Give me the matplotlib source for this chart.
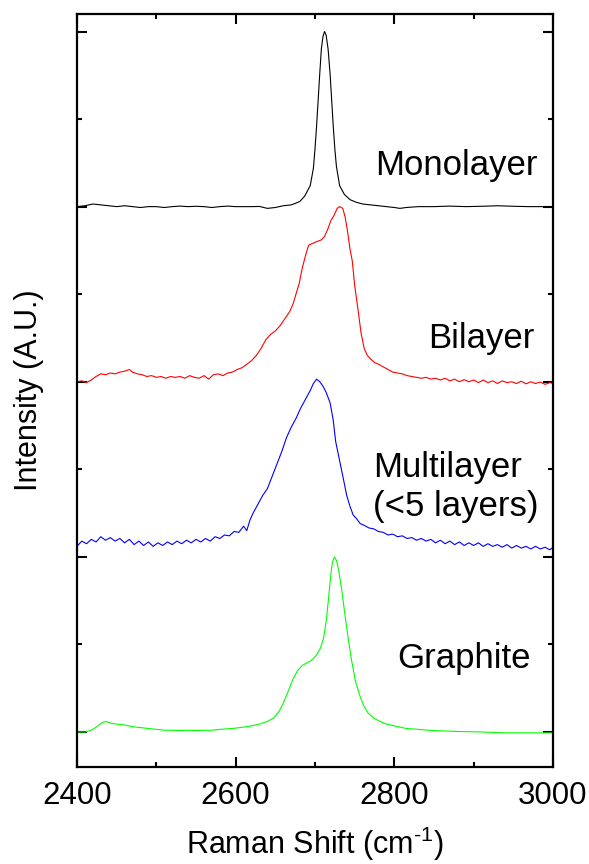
import matplotlib
matplotlib.use("Agg")
import matplotlib.pyplot as plt
from matplotlib.ticker import MultipleLocator, FixedLocator, NullFormatter

plt.rcParams['font.family'] = ['Liberation Sans', 'DejaVu Sans']
plt.rcParams['mathtext.fontset'] = 'custom'
plt.rcParams['mathtext.rm'] = 'Liberation Sans'

# ---------------- data (curves already offset) -------------
mono_x = [2400, 2410, 2420, 2430, 2440, 2450, 2460, 2470, 2480, 2490, 2500, 2510,
          2520, 2530, 2540, 2550, 2560, 2570, 2580, 2590, 2600, 2610, 2620, 2630,
          2640, 2650, 2660, 2670, 2676, 2681, 2687, 2694, 2698, 2700, 2702, 2704,
          2706, 2708, 2710, 2712, 2714, 2716.5, 2719, 2721, 2723, 2725, 2727, 2731,
          2737, 2744, 2752, 2760, 2770, 2780, 2790, 2800, 2807, 2815, 2830, 2850,
          2870, 2890, 2910, 2930, 2950, 2970, 2990, 3000]
mono_y = [3.0, 3.005, 3.015, 3.01, 3.005, 3.0, 3.005, 3.0, 2.995, 3.0, 3.0, 2.995,
          3.0, 3.003, 3.0, 3.002, 3.0, 2.995, 3.0, 3.003, 3.0, 3.0, 3.0, 3.001,
          2.99, 2.995, 3.005, 3.01, 3.02, 3.03, 3.06, 3.12, 3.22, 3.33, 3.46, 3.61,
          3.76, 3.9, 3.97, 4.0, 3.98, 3.9, 3.76, 3.61, 3.46, 3.33, 3.23, 3.12,
          3.07, 3.04, 3.025, 3.015, 3.01, 3.005, 3.0, 2.995, 2.99, 2.995, 3.0, 3.0,
          3.003, 3.0, 3.002, 3.005, 3.002, 3.0, 3.0, 3.0]

bi_x = [2400, 2406, 2412, 2418, 2424, 2430, 2436, 2442, 2448, 2454, 2460, 2466,
        2470, 2476, 2482, 2488, 2494, 2500, 2506, 2512, 2518, 2524, 2530, 2536,
        2542, 2548, 2554, 2560, 2566, 2572, 2578, 2584, 2590, 2596, 2602, 2608,
        2614, 2620, 2626, 2632, 2638, 2644, 2650, 2656, 2662, 2668, 2672, 2676,
        2680, 2684, 2688, 2692, 2697, 2702, 2708, 2712, 2716, 2720, 2724, 2728,
        2731, 2735, 2738, 2741, 2744, 2747, 2750, 2754, 2758, 2762, 2766, 2770,
        2775, 2780, 2786, 2792, 2798, 2804, 2810, 2816, 2822, 2828, 2834, 2840,
        2846, 2852, 2858, 2864, 2870, 2876, 2882, 2888, 2894, 2900, 2906, 2912,
        2918, 2924, 2930, 2936, 2942, 2948, 2954, 2960, 2966, 2972, 2978, 2984,
        2990, 2996, 3000]
bi_y = [2.0, 2.005, 1.995, 2.01, 2.03, 2.045, 2.04, 2.05, 2.045, 2.055, 2.06, 2.07,
        2.055, 2.045, 2.04, 2.03, 2.035, 2.025, 2.03, 2.02, 2.03, 2.025, 2.03, 2.02,
        2.035, 2.025, 2.02, 2.035, 2.015, 2.04, 2.045, 2.035, 2.05, 2.055, 2.07, 2.08,
        2.1, 2.12, 2.15, 2.19, 2.24, 2.27, 2.29, 2.32, 2.36, 2.40, 2.44, 2.50,
        2.56, 2.65, 2.72, 2.78, 2.79, 2.80, 2.81, 2.83, 2.87, 2.92, 2.95, 2.99,
        3.0, 2.99, 2.94, 2.86, 2.76, 2.69, 2.55, 2.42, 2.28, 2.19, 2.15, 2.13,
        2.11, 2.10, 2.085, 2.07, 2.055, 2.05, 2.045, 2.035, 2.03, 2.025, 2.02, 2.025,
        2.015, 2.02, 2.01, 2.02, 2.005, 2.015, 2.0, 2.012, 2.0, 2.01, 1.995, 2.01,
        1.995, 2.005, 1.99, 2.005, 1.995, 2.0, 1.99, 2.003, 1.988, 2.0, 1.99, 1.998,
        1.985, 1.995, 1.99]

multi_x = [2400, 2406, 2412, 2418, 2424, 2430, 2436, 2442, 2448, 2454, 2460, 2466,
           2472, 2478, 2484, 2490, 2496, 2502, 2508, 2514, 2520, 2526, 2532, 2538,
           2544, 2550, 2556, 2562, 2568, 2574, 2580, 2586, 2592, 2598, 2604, 2610,
           2614, 2618, 2622, 2628, 2634, 2640, 2646, 2652, 2658, 2664, 2670, 2676,
           2682, 2688, 2694, 2698, 2702, 2706, 2710, 2714, 2719, 2723, 2726, 2731,
           2736, 2740, 2744, 2748, 2752, 2757, 2762, 2768, 2774, 2780, 2786, 2792,
           2798, 2804, 2810, 2816, 2822, 2828, 2834, 2840, 2846, 2852, 2858, 2864,
           2870, 2876, 2882, 2888, 2894, 2900, 2906, 2912, 2918, 2924, 2930, 2936,
           2942, 2948, 2954, 2960, 2966, 2972, 2978, 2984, 2990, 2996, 3000]
multi_y = [1.06, 1.09, 1.075, 1.10, 1.085, 1.115, 1.095, 1.11, 1.09, 1.105, 1.08, 1.10,
           1.07, 1.09, 1.065, 1.085, 1.06, 1.08, 1.065, 1.085, 1.07, 1.09, 1.075, 1.095,
           1.08, 1.10, 1.085, 1.105, 1.09, 1.115, 1.105, 1.125, 1.12, 1.145, 1.14, 1.175,
           1.15, 1.21, 1.25, 1.30, 1.35, 1.39, 1.46, 1.53, 1.60, 1.68, 1.74, 1.79,
           1.85, 1.90, 1.95, 1.99, 2.015, 2.0, 1.975, 1.94, 1.88, 1.78, 1.66, 1.55,
           1.44, 1.35, 1.29, 1.24, 1.22, 1.19, 1.18, 1.165, 1.16, 1.145, 1.14, 1.125,
           1.13, 1.115, 1.12, 1.105, 1.11, 1.095, 1.105, 1.09, 1.10, 1.08, 1.095, 1.075,
           1.09, 1.07, 1.085, 1.065, 1.08, 1.065, 1.08, 1.06, 1.075, 1.06, 1.07, 1.055,
           1.07, 1.05, 1.065, 1.05, 1.06, 1.045, 1.06, 1.045, 1.055, 1.04, 1.055]

graph_x = [2400, 2410, 2418, 2425, 2432, 2437, 2443, 2450, 2460, 2470, 2480, 2490,
           2500, 2510, 2520, 2530, 2540, 2550, 2560, 2570, 2580, 2590, 2600, 2610,
           2620, 2630, 2640, 2648, 2655, 2660, 2666, 2672, 2678, 2684, 2690, 2696,
           2702, 2707, 2711, 2714, 2717, 2720, 2722, 2724.5, 2727, 2730, 2734, 2738,
           2742, 2746, 2751, 2757, 2762, 2767, 2774, 2782, 2790, 2800, 2815, 2830,
           2850, 2880, 2910, 2940, 2970, 3000]
graph_y = [0.0, 0.0, 0.01, 0.03, 0.055, 0.06, 0.05, 0.045, 0.04, 0.03, 0.025, 0.02,
           0.015, 0.01, 0.01, 0.008, 0.01, 0.008, 0.01, 0.01, 0.015, 0.018, 0.022, 0.028,
           0.035, 0.045, 0.06, 0.08, 0.12, 0.165, 0.23, 0.3, 0.35, 0.38, 0.395, 0.41,
           0.44, 0.48, 0.54, 0.63, 0.76, 0.9, 0.97, 1.0, 0.98, 0.92, 0.8, 0.66,
           0.53, 0.41, 0.29, 0.2, 0.145, 0.107, 0.08, 0.06, 0.045, 0.035, 0.02, 0.015,
           0.008, 0.003, 0.0, -0.005, -0.005, -0.005]

labels = ["Monolayer", "Bilayer", "Multilayer", "(<5 layers)", "Graphite"]
colors = ["black", "#ff0000", "#0000ff", "#00ff00"]
x_ticks = [2400, 2600, 2800, 3000]

# ---------------- figure -------------------------------------------------------
fig = plt.figure(figsize=(5.89, 8.64), dpi=100)
ax = fig.add_axes([77 / 589, 1 - 767 / 864, 476 / 589, 753 / 864])

series = [(mono_x, mono_y), (bi_x, bi_y), (multi_x, multi_y), (graph_x, graph_y)]
for (xs, ys), c in zip(series, colors):
    ax.plot(xs, ys, color=c, lw=0.8)

ax.set_xlim(2400, 3000)
ax.set_ylim(-0.2, 4.1)

ax.xaxis.set_major_locator(FixedLocator(x_ticks))
ax.xaxis.set_minor_locator(MultipleLocator(100))
ax.yaxis.set_major_locator(MultipleLocator(1))
ax.yaxis.set_minor_locator(MultipleLocator(0.5))
ax.yaxis.set_major_formatter(NullFormatter())

ax.tick_params(which='both', direction='in', top=True, right=True, width=1.5)
ax.tick_params(which='major', length=7.5)
ax.tick_params(which='minor', length=3.8)
ax.tick_params(axis='x', which='major', labelsize=22.5, pad=10)
for s in ax.spines.values():
    s.set_linewidth(1.6)

# annotations (left-aligned, baseline)
label_pos = [(2775.6, 3.183), (2842.4, 2.194), (2773.0, 1.457), (2773.0, 1.234),
             (2803.4, 0.366)]
for txt, (lx, ly) in zip(labels, label_pos):
    ax.text(lx, ly, txt, fontsize=25, ha='left', va='baseline')

ax.set_xlabel(r"Raman Shift (cm$^{\text{-1}}$)", fontsize=22, labelpad=10)
ax.set_ylabel("Intensity (A.U.)", fontsize=22)
ax.yaxis.set_label_coords(-0.07, 0.5)

fig.savefig("out.png", dpi=100)
